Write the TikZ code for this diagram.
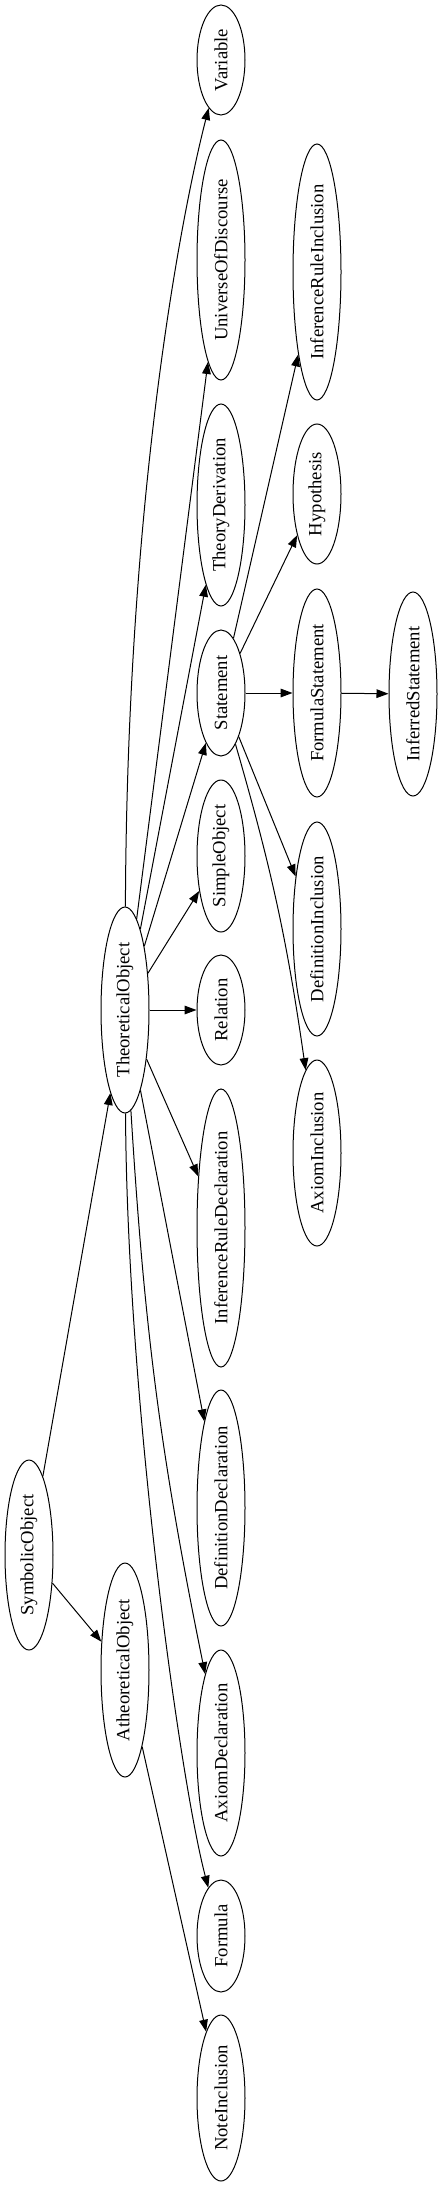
\documentclass[tikz,border=0pt]{standalone}
\usepackage{fontspec}
\setmainfont{Liberation Serif}
\usepackage{graphicx}
\usetikzlibrary{shapes.geometric,arrows.meta}
\newcommand{\uptext}[1]{\rotatebox{90}{#1}}

\begin{document}
\begin{tikzpicture}[x=0.75pt, y=0.75pt, ->, >={Triangle[length=9pt,width=6.5pt]}, line width=0.75pt,
    cls/.style={ellipse, draw, minimum width=36pt, inner sep=0pt, font=\fontsize{14}{16}\selectfont}]
    \useasboundingbox (0,0) rectangle (443,-2187);
    % first two ranks
    \node[cls, minimum height=142.5pt] (sym) at (29,-1555) {\uptext{SymbolicObject}};
    \node[cls, minimum height=154.5pt] (theo) at (125,-1010) {\uptext{TheoreticalObject}};
    \node[cls, minimum height=160.5pt] (atheo) at (125,-1670) {\uptext{AtheoreticalObject}};
    % children of the theoretical and atheoretical objects
    \node[cls, minimum height=82.5pt] (var) at (221,-60) {\uptext{Variable}};
    \node[cls, minimum height=180pt] (uod) at (221,-260) {\uptext{UniverseOfDiscourse}};
    \node[cls, minimum height=151.5pt] (theoder) at (221,-505) {\uptext{TheoryDerivation}};
    \node[cls, minimum height=94.5pt] (stmt) at (221,-693) {\uptext{Statement}};
    \node[cls, minimum height=114pt] (simple) at (221,-856) {\uptext{SimpleObject}};
    \node[cls, minimum height=82.5pt] (rel) at (221,-1010) {\uptext{Relation}};
    \node[cls, minimum height=208.5pt] (irdecl) at (221,-1228) {\uptext{InferenceRuleDeclaration}};
    \node[cls, minimum height=177pt] (defdecl) at (221,-1508) {\uptext{DefinitionDeclaration}};
    \node[cls, minimum height=154.5pt] (axdecl) at (221,-1753) {\uptext{AxiomDeclaration}};
    \node[cls, minimum height=84pt] (formula) at (221,-1936) {\uptext{Formula}};
    \node[cls, minimum height=124.5pt] (note) at (221,-2098) {\uptext{NoteInclusion}};
    % statement kinds
    \node[cls, minimum height=192pt] (irinc) at (317,-272) {\uptext{InferenceRuleInclusion}};
    \node[cls, minimum height=105pt] (hyp) at (317,-494) {\uptext{Hypothesis}};
    \node[cls, minimum height=156pt] (fstmt) at (317,-693) {\uptext{FormulaStatement}};
    \node[cls, minimum height=160.5pt] (definc) at (317,-929) {\uptext{DefinitionInclusion}};
    \node[cls, minimum height=139.5pt] (axinc) at (317,-1153) {\uptext{AxiomInclusion}};
    \node[cls, minimum height=153pt] (infstmt) at (413,-694) {\uptext{InferredStatement}};

    \path (sym) edge (theo)
          (sym) edge (atheo)
          (atheo) edge (note)
          (theo) edge (uod)
          (theo) edge (theoder)
          (theo) edge (stmt)
          (theo) edge (simple)
          (theo) edge (rel)
          (theo) edge (irdecl)
          (theo) edge (defdecl)
          (theo) edge [bend right=4] (axdecl)
          (stmt) edge (irinc)
          (stmt) edge (hyp)
          (stmt) edge (fstmt)
          (stmt) edge (definc)
          (stmt) edge [bend left=4] (axinc)
          (fstmt) edge (infstmt);
    \draw (theo) .. controls (127,-500) and (180,-220) .. (var);
    \draw (theo) .. controls (127,-1400) and (180,-1780) .. (formula);
\end{tikzpicture}
\end{document}
